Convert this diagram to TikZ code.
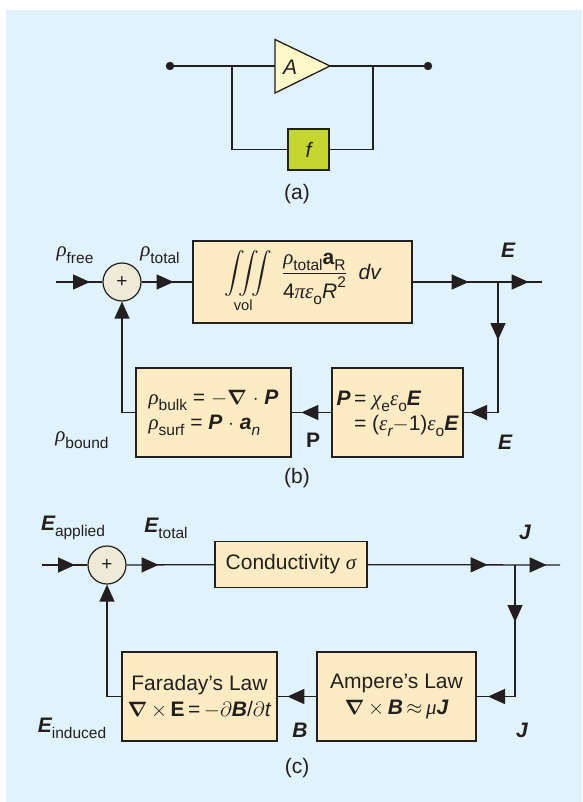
\documentclass[tikz,border=0pt]{standalone}
\usepackage{amsmath}
\usepackage{fontspec}
\setmainfont{Liberation Sans}
\newfontfamily\grk{Liberation Serif}
\usetikzlibrary{arrows.meta,decorations.markings,shapes.geometric}
\definecolor{bgblue}{HTML}{E0F2FB}
\definecolor{boxfill}{HTML}{FDEBC3}
\definecolor{sumfill}{HTML}{EDEBD8}
\definecolor{ampfill}{HTML}{FFF9C9}
\definecolor{ffill}{HTML}{C5D62E}
\definecolor{ink}{HTML}{231F20}
\newcommand{\gk}[1]{{\grk\itshape #1}}
\newcommand{\lsub}[1]{\raisebox{-0.3em}{\fontsize{15.5}{15.5}\selectfont #1}}
\newcommand{\lsup}[1]{\raisebox{0.5em}{\fontsize{15.5}{15.5}\selectfont #1}}
\newcommand{\mybi}[1]{{\bfseries\itshape #1}}
\newcommand{\nab}{$\boldsymbol{\nabla}$}
\begin{document}
\begin{tikzpicture}[x=1pt,y=-1pt, line width=1.3pt, draw=ink,
  every node/.style={font=\fontsize{21}{26}\selectfont, text=ink, inner sep=0pt},
  blk/.style={draw=ink, fill=boxfill, rectangle, line width=1.3pt},
  sumnode/.style={draw=ink, fill=sumfill, circle, minimum size=38pt, line width=1.2pt, font=\fontsize{19}{22}\selectfont},
  endtri/.style={-{Triangle[length=17pt,width=15pt]}},
  tipat/.style={postaction={decorate,decoration={markings,mark=at position #1 with {\arrow{Triangle[length=17pt,width=15pt]}}}}},
]
\fill[bgblue] (6,10) rectangle (582,802);
\useasboundingbox (0,0) rectangle (582,802);

% ---------- (a)
\coordinate (ain) at (170,66);
\coordinate (aout) at (428,66);
\coordinate (ampin) at (275,66);
\coordinate (ampout) at (330,66);
\coordinate (fbl) at (232,66);
\coordinate (fbr) at (373,66);
\draw[fill=ampfill] (275,39.5) -- (ampout) -- (275,93) -- cycle;
\node (A) at (290,67) {\itshape A};
\node[draw=ink, fill=ffill, minimum width=41pt, minimum height=41pt] (f) at (308.5,149.5) {\itshape f};
\draw (ain) -- (ampin);
\draw (ampout) -- (aout);
\draw (fbl) |- (f.west);
\draw (f.east) -| (fbr);
\fill[ink] (ain) circle[radius=4.2];
\fill[ink] (aout) circle[radius=4.2];
\node (la) at (297,194) {(a)};

% ---------- (b)
\node[sumnode] (s1) at (122,282) {+};
\coordinate (in1) at (56,282);
\draw[tipat=34pt] (in1) -- (s1);
\node[blk, minimum width=219pt, minimum height=82pt] (b1) at (302.5,282)
  {$\displaystyle\iiint\limits_{\text{vol}}\;\frac{\text{\gk{ρ}\lsub{total}\textbf{a}\lsub{R}}}{\text{4\gk{πε}\lsub{o}\itshape R\lsup{\upshape 2}}}\;\;\text{\itshape dv}$};
\draw[tipat=32pt] (s1) -- (b1);
\coordinate (br1) at (498,282);
\coordinate (out1) at (542,282);
\draw[tipat=56pt, tipat=116pt] (b1) -- (out1);
\node[blk, minimum width=131pt, minimum height=89pt] (b2) at (397.5,412.5)
  {\begin{tabular}{@{}r@{\,}l@{}}\mybi{P} & = \gk{χ}\lsub{e}\gk{ε}\lsub{o}\mybi{E}\\[-1pt] & = (\gk{ε}\lsub{\itshape r}$-$1)\gk{ε}\lsub{o}\mybi{E}\end{tabular}};
\draw[tipat=58pt, tipat=158.5pt] (br1) |- (b2);
\node[blk, minimum width=155pt, minimum height=89pt, align=left] (b3) at (213.5,412.5)
  {\gk{ρ}\lsub{bulk} = $-$\nab\ $\cdot$ \mybi{P}\\[-1pt] \gk{ρ}\lsub{surf} = \mybi{P} $\cdot$ \mybi{a}\lsub{\itshape n}};
\draw[tipat=30pt] (b2) -- (b3);
\draw[endtri] (b3) -| (s1);
\node (rfree) at (75,255) {\gk{ρ}\lsub{free}};
\node (rtotal) at (160,255) {\gk{ρ}\lsub{total}};
\node (E1) at (508,250) {\mybi{E}};
\node (E2) at (505,442) {\mybi{E}};
\node (P1) at (313,440) {\bfseries P};
\node (rbound) at (82,440) {\gk{ρ}\lsub{bound}};
\node (lb) at (297,478) {(b)};

% ---------- (c)
\node[sumnode] (s2) at (107,565) {+};
\coordinate (in2) at (42,565);
\draw[tipat=33pt] (in2) -- (s2);
\node[blk, minimum width=152pt, minimum height=46pt] (b4) at (291,564.5) {Conductivity \gk{σ}};
\draw[tipat=32pt] (s2) -- (b4);
\coordinate (br2) at (515,565);
\coordinate (out2) at (560,565);
\draw[tipat=120pt, tipat=179pt] (b4) -- (out2);
\node[blk, minimum width=159pt, minimum height=89pt, align=center] (b5) at (396.5,696.5)
  {Ampere’s Law\\ \nab\,$\times$\,\mybi{B}\,$\approx$\,\gk{μ}\mybi{J}};
\draw[tipat=57pt, tipat=158.5pt] (br2) |- (b5);
\node[blk, minimum width=155pt, minimum height=89pt, align=center] (b6) at (199.5,696.5)
  {Faraday’s Law\\ \nab\,$\times$\,\textbf{E}\,=\,$-\partial$\mybi{B}/$\partial$\textit{t}};
\draw[tipat=29pt] (b5) -- (b6);
\draw[endtri] (b6) -| (s2);
\node (Eapp) at (73,528) {\mybi{E}\lsub{applied}};
\node (Etot) at (166,528) {\mybi{E}\lsub{total}};
\node (J1) at (525,532) {\mybi{J}};
\node (J2) at (522,730) {\mybi{J}};
\node (B1) at (300,730) {\mybi{B}};
\node (Eind) at (72,728) {\mybi{E}\lsub{induced}};
\node (lc) at (297,768) {(c)};
\end{tikzpicture}
\end{document}
